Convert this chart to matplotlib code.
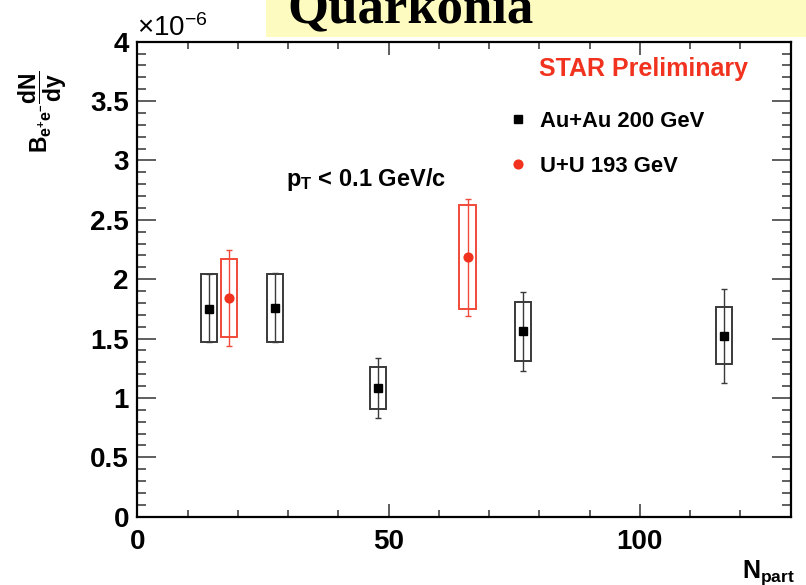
import matplotlib
matplotlib.use("Agg")
import matplotlib.pyplot as plt
from matplotlib.lines import Line2D
from matplotlib.patches import Rectangle
from matplotlib.ticker import MultipleLocator
import numpy as np

plt.rcParams['font.family'] = ['Liberation Sans', 'DejaVu Sans']
plt.rcParams['mathtext.fontset'] = 'custom'
plt.rcParams['mathtext.rm'] = 'Liberation Sans'
plt.rcParams['mathtext.it'] = 'Liberation Sans:italic'
plt.rcParams['mathtext.bf'] = 'Liberation Sans:bold'

# J/psi yield at low pT (units of 1e-6) versus number of participants
au_npart = [14.3, 27.4, 47.8, 76.8, 116.7]
au_yield = [1.75, 1.755, 1.08, 1.56, 1.525]
au_stat_lo = [1.47, 1.47, 0.835, 1.23, 1.13]
au_stat_hi = [2.04, 2.05, 1.335, 1.89, 1.92]
au_sys_lo = [1.475, 1.475, 0.907, 1.311, 1.283]
au_sys_hi = [2.04, 2.045, 1.258, 1.805, 1.768]

uu_npart = [18.3, 65.7]
uu_yield = [1.845, 2.185]
uu_stat_lo = [1.437, 1.693]
uu_stat_hi = [2.248, 2.675]
uu_sys_lo = [1.516, 1.747]
uu_sys_hi = [2.170, 2.625]

series_labels = ["Au+Au 200 GeV", "U+U 193 GeV"]
x_ticks = [0, 50, 100]
y_ticks = [0, 0.5, 1, 1.5, 2, 2.5, 3, 3.5, 4]
y_tick_labels = ["0", "0.5", "1", "1.5", "2", "2.5", "3", "3.5", "4"]

RED = "#f0321e"
BOX_W = 3.2

W, H = 806, 585
fig = plt.figure(figsize=(W / 100, H / 100), dpi=100)
fig.patch.set_facecolor("white")

# yellow title banner at the top
fig.patches.append(Rectangle((265.7 / W, 1 - 36.7 / H), 1 - 265.7 / W, 36.7 / H,
                             transform=fig.transFigure, facecolor="#fdfbc0",
                             edgecolor="none", zorder=0))
fig.text(287 / W, 1 - 22 / H, "Quarkonia", family="Liberation Serif",
         weight="bold", fontsize=38, va="baseline", ha="left", color="black")

ax = fig.add_axes([137.3 / W, 1 - 516.7 / H, (790.7 - 137.3) / W, (516.7 - 41.7) / H])
ax.set_xlim(0, 130)
ax.set_ylim(0, 4)


def draw_series(x, y, slo, shi, elo, ehi, color, edge, marker, ms, label):
    x = np.asarray(x)
    y = np.asarray(y)
    slo, shi = np.asarray(slo), np.asarray(shi)
    elo, ehi = np.asarray(elo), np.asarray(ehi)
    ax.bar(x, shi - slo, bottom=slo, width=BOX_W, fill=False,
           edgecolor=edge, linewidth=1.4, zorder=2)
    ax.errorbar(x, y, yerr=[y - elo, ehi - y], fmt="none", ecolor=edge,
                elinewidth=1.0, capsize=2.2, capthick=1.0, zorder=3)
    ax.plot(x, y, linestyle="none", marker=marker, color=color,
            markersize=ms, zorder=4, label=label)


draw_series(au_npart, au_yield, au_sys_lo, au_sys_hi, au_stat_lo, au_stat_hi,
            "black", "#3a3a3a", "s", 5.5, series_labels[0])
draw_series(uu_npart, uu_yield, uu_sys_lo, uu_sys_hi, uu_stat_lo, uu_stat_hi,
            RED, "#f04a3a", "o", 6.3, series_labels[1])

# axes frame and ticks
for s in ax.spines.values():
    s.set_linewidth(1.6)
ax.set_xticks(x_ticks)
ax.xaxis.set_minor_locator(MultipleLocator(10))
ax.set_yticks(y_ticks)
ax.set_yticklabels(y_tick_labels)
ax.yaxis.set_minor_locator(MultipleLocator(0.1))
ax.tick_params(axis="both", which="both", direction="in", top=True, right=True,
               color="#333333", width=1.1)
ax.tick_params(axis="x", which="major", length=9.5, labelsize=20, pad=8.5)
ax.tick_params(axis="x", which="minor", length=5)
ax.tick_params(axis="y", which="major", length=14, labelsize=20, pad=6)
ax.tick_params(axis="y", which="minor", length=6.5)
for lab in ax.get_xticklabels() + ax.get_yticklabels():
    lab.set_fontweight("bold")

# exponent of the y axis
fig.text(137 / W, 1 - 36 / H, r"$\times10^{-6}$", fontsize=20, va="baseline", ha="left")

# axis titles
fig.text(742 / W, 1 - 578 / H, r"$\mathbf{N}_{\mathbf{part}}$", fontsize=18,
         va="baseline", ha="left")
fig.text(43 / W, 1 - 112 / H, r"$\mathbf{B}_{\mathbf{e^{+}e^{-}}}\mathbf{\dfrac{dN}{dy}}$",
         fontsize=16.5, rotation=90, va="center", ha="center")

# annotations
ax.text(0.6148, 0.942, "STAR Preliminary", transform=ax.transAxes, color=RED,
        fontsize=18, weight="bold", va="center", ha="left")
ax.text(0.2276, 0.709, r"$\mathbf{p}_{\mathbf{T}}$ < 0.1 GeV/c", transform=ax.transAxes,
        fontsize=17, weight="bold", va="center", ha="left")

handles = [Line2D([], [], linestyle="none", marker="s", color="black", markersize=5.5),
           Line2D([], [], linestyle="none", marker="o", color=RED, markersize=6.3)]
leg = ax.legend(handles, series_labels, loc="upper left", bbox_to_anchor=(0.573, 0.855),
                frameon=False, handlelength=0.6, handletextpad=0.7, labelspacing=1.1,
                borderaxespad=0, borderpad=0,
                prop={"family": "Liberation Sans", "weight": "bold", "size": 15.8})

fig.savefig("out.png", dpi=100)
